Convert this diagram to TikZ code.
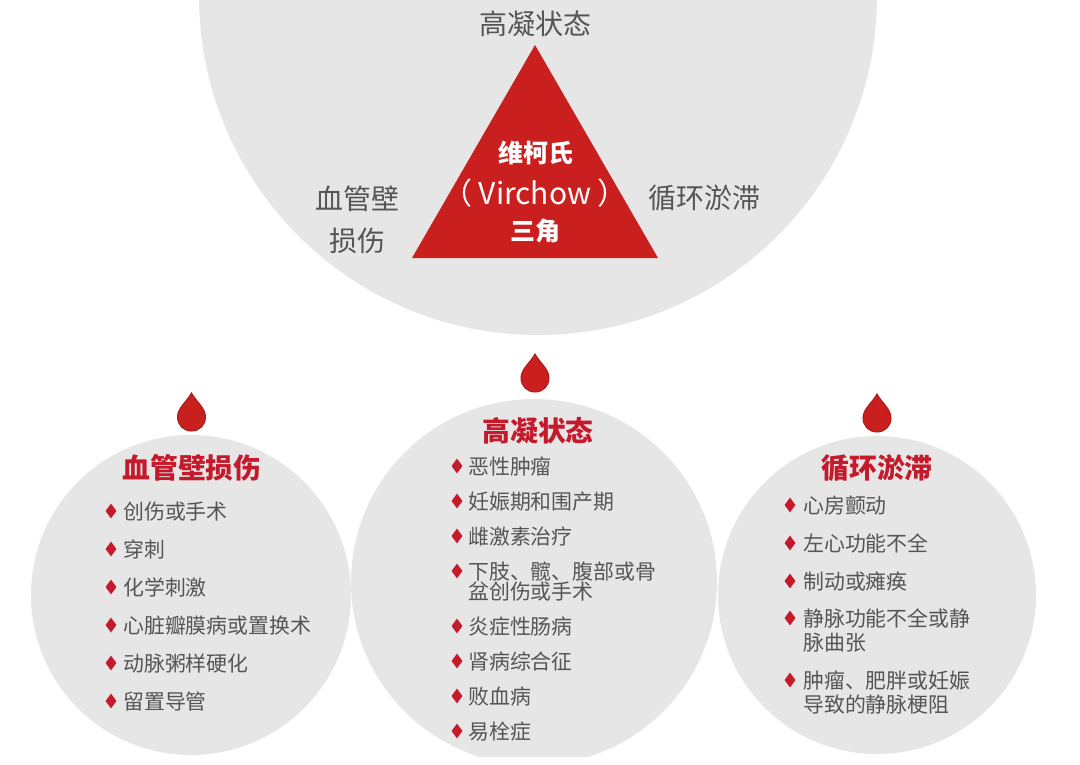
\documentclass[tikz,border=0pt]{standalone}
\usepackage{fontspec}
\setmainfont{Noto Sans CJK SC}
\usetikzlibrary{shapes.geometric,positioning}
\definecolor{discgray}{HTML}{E6E6E6}
\definecolor{bloodred}{HTML}{C9201F}
\definecolor{bulletred}{HTML}{C41A2B}
\definecolor{itemgray}{HTML}{555555}
\tikzset{
  disc/.style = {circle, fill = discgray, inner sep = 0pt},
  bullet/.style = {diamond, fill = bulletred, inner sep = 0pt, minimum width = 11pt, minimum height = 15pt},
  item/.style = {anchor = north west, inner sep = 0pt, text = itemgray, align = left, font = \fontsize{20.9}{24}\selectfont},
  heading/.style = {inner sep = 0pt, text = bulletred, font = \fontsize{27.8}{30}\selectfont\bfseries},
  label/.style = {inner sep = 0pt, text = itemgray, align = center, font = \fontsize{28}{42}\selectfont},
  inner/.style = {inner sep = 0pt, text = white, font = \fontsize{25}{30}\selectfont\bfseries},
  drop/.pic = {\fill[bloodred, draw = bloodred!85!black, line width = 1pt] (0,-19) .. controls (5,-10) and (14,-4) .. (14,5) .. controls (14,13) and (8,19) .. (0,19) .. controls (-8,19) and (-14,13) .. (-14,5) .. controls (-14,-4) and (-5,-10) .. (0,-19) -- cycle;}
}
\begin{document}
\begin{tikzpicture}[x = 1pt, y = -1pt]
\useasboundingbox (0,0) rectangle (1080,764);
\clip (0,0) rectangle (1080,764);
% top circle and triangle
\node[disc, minimum size = 678pt] (top) at (538,-4) {};
\node[label] (hi) at (535,24) {高凝状态};
\node[label] (stasis) at (704,198) {循环淤滞};
\node[label] (wall) at (357,220) {血管壁\\损伤};
\fill[bloodred] (535,45) -- (658,258) -- (412,258) -- cycle;
\node[inner] (tri1) at (536,153) {维柯氏};
\node[inner, font = \fontsize{30}{30}\selectfont, text = white!92!discgray] (tri2) at (535,193) {（ Virchow ）};
\node[inner] (tri3) at (535,231) {三角};
% three lower circles
\node[disc, minimum size = 320pt] (left) at (191,595) {};
\node[disc, minimum size = 366pt] (mid) at (534,582) {};
\node[disc, minimum size = 318pt] (right) at (877,595) {};
\fill[white] (0,757) rectangle (1080,775);
\pic at (191.5,412) {drop};
\pic at (535,373) {drop};
\pic at (877,413) {drop};
\node[heading] (lefthead) at (192,468) {血管壁损伤};
\node[heading] (midhead) at (538,431) {高凝状态};
\node[heading] (righthead) at (877,468) {循环淤滞};
% left list
\foreach \n/\y/\t in {1/511/创伤或手术, 2/549/穿刺, 3/587/化学刺激, 4/625/心脏瓣膜病或置换术, 5/663/动脉粥样硬化, 6/701/留置导管}{
  \node[bullet] (lb\n) at (111,\y) {};
  \node[item] (lt\n) at (123,\y-9.5) {\t};
}
% middle list
\foreach \n/\y/\t in {1/466/恶性肿瘤, 2/501/妊娠期和围产期, 3/536/雌激素治疗, 4/571/{下肢、髋、腹部或骨\\[-4pt]盆创伤或手术}, 5/626/炎症性肠病, 6/661/肾病综合征, 7/696/败血病, 8/731/易栓症}{
  \node[bullet] (mb\n) at (457,\y) {};
  \node[item] (mt\n) at (468,\y-9.5) {\t};
}
% right list
\foreach \n/\y/\t in {1/505/心房颤动, 2/543/左心功能不全, 3/581/制动或瘫痪, 4/618/{静脉功能不全或静\\脉曲张}, 5/680/{肿瘤、肥胖或妊娠\\导致的静脉梗阻}}{
  \node[bullet] (rb\n) at (790,\y) {};
  \node[item] (rt\n) at (803,\y-9.5) {\t};
}
\end{tikzpicture}
\end{document}
